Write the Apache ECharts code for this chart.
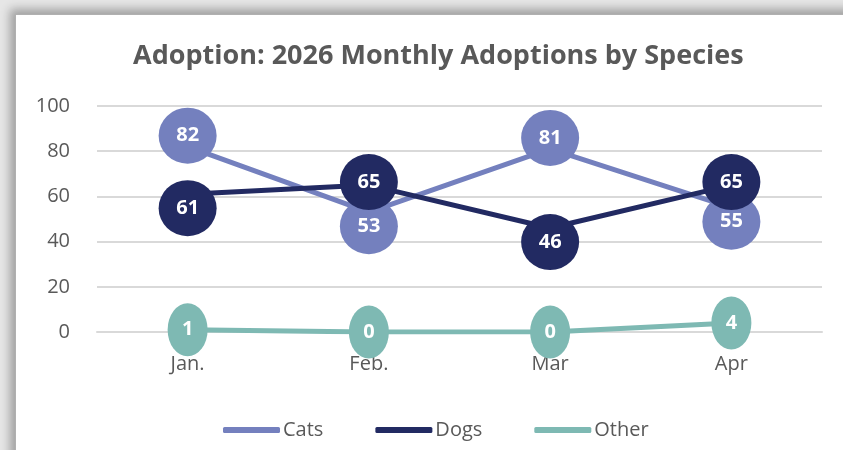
<!DOCTYPE html>
<html>
<head>
<meta charset="utf-8">
<script src="https://cdn.jsdelivr.net/npm/echarts@6/dist/echarts.min.js"></script>
<style>
  html, body { margin: 0; padding: 0; background: #ffffff; }
  #wrap { position: relative; width: 843px; height: 450px; overflow: hidden; background: #e6e6e6; }
  #frame { position: absolute; left: 15px; top: 14px; width: 900px; height: 500px; background: #ffffff;
           border-left: 1px solid #b0b0b0; border-top: 1px solid #b0b0b0;
           box-shadow: -5px -5px 9px rgba(0,0,0,0.30); }
  #main { position: absolute; left: 0; top: 0; width: 843px; height: 450px; }
</style>
</head>
<body>
<div id="wrap">
  <div id="frame"></div>
  <div id="main"></div>
</div>
<script>
const categories = ['Jan.', 'Feb.', 'Mar', 'Apr'];
const seriesNames = ['Cats', 'Dogs', 'Other'];
const catsValues = [82, 53, 81, 55];
const dogsValues = [61, 65, 46, 65];
const otherValues = [1, 0, 0, 4];
const yTicks = [0, 20, 40, 60, 80, 100];

const colors = { Cats: '#7480be', Dogs: '#222a62', Other: '#7eb9b3' };
const FONT = '"Open Sans", "Noto Sans", sans-serif';

// bubble placement: the higher of cats/dogs sits above its point, the lower below
function bubbleData(values, others, upShift) {
  return values.map((v, i) => {
    let dy = 0;
    if (others) dy = v >= others[i] ? upShift : 14;
    return { value: v, symbolOffset: [0, dy] };
  });
}

function makeSeries(name, values, others, big, upShift) {
  const w = big ? 58 : 40;
  const h = big ? 56 : 53;
  return {
    name: name,
    type: 'line',
    data: bubbleData(values, others, upShift),
    symbol: 'circle',
    symbolSize: [w, h],
    showSymbol: true,
    itemStyle: { color: colors[name], opacity: 1 },
    lineStyle: { color: colors[name], width: 5, cap: 'round' },
    z: big ? 3 : 2,
    label: {
      show: true,
      position: 'inside',
      color: '#ffffff',
      fontFamily: FONT,
      fontWeight: 'bold',
      fontSize: 20
    },
    emphasis: { disabled: true },
    animation: false
  };
}

const cats = makeSeries('Cats', catsValues, dogsValues, true, -11);
const dogs = makeSeries('Dogs', dogsValues, catsValues, true, -3);
const other = makeSeries('Other', otherValues, null, false, 0);
dogs.z = 4;

const chart = echarts.init(document.getElementById('main'), null, { renderer: 'canvas' });
chart.setOption({
  backgroundColor: 'transparent',
  animation: false,
  title: {
    text: 'Adoption: 2026 Monthly Adoptions by Species',
    left: 128,
    top: 38,
    textStyle: { fontFamily: FONT, fontWeight: 'bold', fontSize: 27, color: '#595959' }
  },
  grid: { left: 97, right: 21, top: 106, bottom: 118, containLabel: false },
  xAxis: {
    type: 'category',
    data: categories,
    boundaryGap: true,
    axisLine: { show: true, lineStyle: { color: '#d9d9d9', width: 2 } },
    axisTick: { show: false },
    axisLabel: { color: '#595959', fontFamily: FONT, fontSize: 20, margin: 22 }
  },
  yAxis: {
    type: 'value',
    min: yTicks[0],
    max: yTicks[yTicks.length - 1],
    interval: yTicks[1] - yTicks[0],
    axisLine: { show: false },
    axisTick: { show: false },
    splitLine: { lineStyle: { color: '#d9d9d9', width: 2 } },
    axisLabel: { color: '#595959', fontFamily: FONT, fontSize: 20, margin: 27 }
  },
  legend: {
    data: seriesNames,
    left: 218,
    top: 415,
    itemWidth: 57,
    itemHeight: 6,
    itemGap: 52,
    icon: 'roundRect',
    textStyle: { color: '#595959', fontFamily: FONT, fontSize: 20, padding: [0, 0, 0, -2] }
  },
  series: [cats, dogs, other]
});
</script>
</body>
</html>
